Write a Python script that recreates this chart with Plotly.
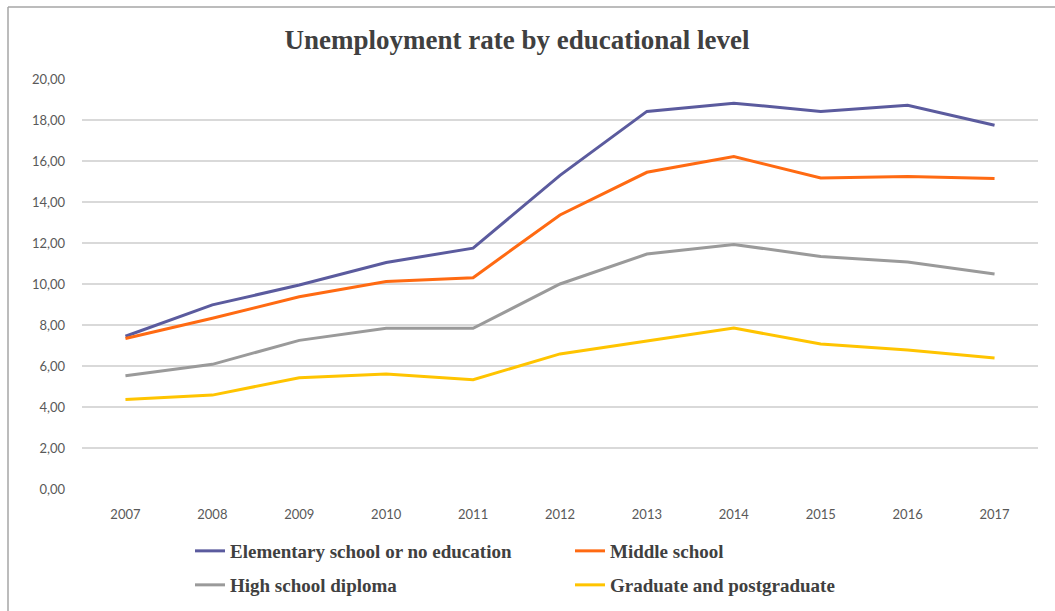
import plotly.graph_objects as go

# Unemployment rate (%) by educational level, 2007-2017
years = ["2007", "2008", "2009", "2010", "2011", "2012", "2013", "2014", "2015", "2016", "2017"]
elementary = [7.45, 8.98, 9.95, 11.05, 11.75, 15.30, 18.42, 18.82, 18.42, 18.72, 17.74]
middle = [7.34, 8.33, 9.38, 10.12, 10.31, 13.37, 15.45, 16.22, 15.17, 15.25, 15.15]
high_school = [5.53, 6.08, 7.25, 7.84, 7.84, 10.00, 11.46, 11.93, 11.34, 11.07, 10.49]
graduate = [4.37, 4.58, 5.43, 5.61, 5.33, 6.59, 7.22, 7.85, 7.07, 6.78, 6.39]

series = [
    ("Elementary school or no education", elementary, "#5B5B9E", "legend"),
    ("Middle school", middle, "#FF6A12", "legend"),
    ("High school diploma", high_school, "#9A9A9A", "legend2"),
    ("Graduate and postgraduate", graduate, "#FFC400", "legend2"),
]

W, H = 1055, 611
ML, MR, MT, MB = 82, 17, 79, 122

fig = go.Figure()
for name, vals, color, lg in series:
    fig.add_trace(go.Scatter(
        x=years, y=vals, name=name, mode="lines",
        line=dict(color=color, width=3),
        legend=lg,
    ))

legend_font = dict(family="Liberation Serif", size=19, color="#404040", weight="bold")
legend_common = dict(
    orientation="h", xanchor="left", yanchor="middle",
    xref="container", yref="container",
    font=legend_font, entrywidth=335, entrywidthmode="pixels",
    bgcolor="rgba(0,0,0,0)", itemwidth=30,
)

def px_x(px):
    return (px - ML) / (W - ML - MR)

def px_y(py):
    return (H - MB - py) / (H - MT - MB)

fig.update_layout(
    width=W, height=H,
    margin=dict(l=ML, r=MR, t=MT, b=MB),
    paper_bgcolor="white", plot_bgcolor="white",
    separators=",.",
    title=dict(
        text="Unemployment rate by educational level",
        xref="container", x=517 / W, xanchor="center",
        yref="container", y=1 - 40 / H, yanchor="middle",
        font=dict(family="Liberation Serif", size=27, color="#404040", weight="bold"),
    ),
    showlegend=True,
    legend=dict(x=190 / W, y=1 - 551 / H, **legend_common),
    legend2=dict(x=190 / W, y=1 - 585 / H, **legend_common),
    xaxis=dict(
        type="category", range=[-0.5, len(years) - 0.5],
        showgrid=False, zeroline=False, showline=False, automargin=False,
        ticks="", tickfont=dict(family="Lato", size=13, color="#595959"),
        ticklabelstandoff=16,
    ),
    yaxis=dict(
        range=[0, 20], dtick=2, tickformat=".2f",
        showgrid=True, gridcolor="#D9D9D9", gridwidth=1.5,
        zeroline=False, showline=False, ticks="", automargin=False,
        tickfont=dict(family="Lato", size=13, color="#595959"),
        ticklabelstandoff=16,
    ),
    shapes=[
        dict(type="line", xref="paper", yref="paper",
             x0=px_x(8), x1=px_x(W + 5), y0=px_y(7), y1=px_y(7),
             line=dict(color="#A6A6A6", width=1.5)),
        dict(type="line", xref="paper", yref="paper",
             x0=px_x(8), x1=px_x(8), y0=px_y(7), y1=px_y(H + 5),
             line=dict(color="#A6A6A6", width=1.5)),
    ],
)

fig.write_html("out.html")
